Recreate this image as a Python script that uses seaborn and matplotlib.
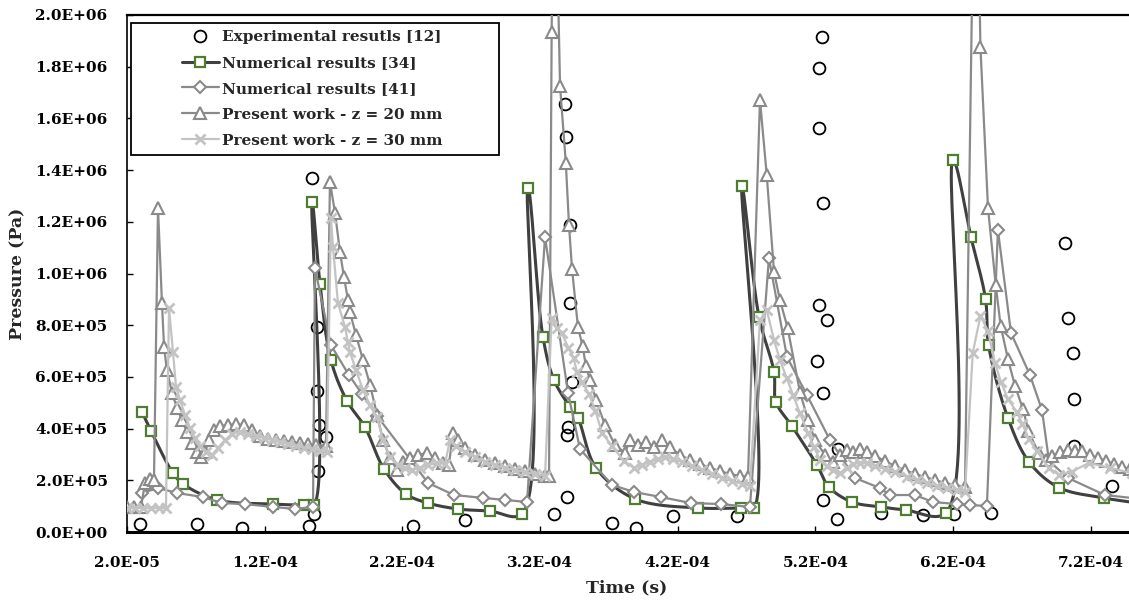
import numpy as np
import pandas as pd
import matplotlib
matplotlib.use("Agg")
import matplotlib.pyplot as plt
import seaborn as sns
from matplotlib.lines import Line2D
from matplotlib.patches import Rectangle
from matplotlib.ticker import FuncFormatter, FixedLocator

sns.set_theme(style="white")
plt.rcParams['font.family'] = ['DejaVu Serif']
plt.rcParams['font.weight'] = 'bold'

# ---------------- data (time in microseconds, pressure in kPa) ----------------
exp_t = [29.4, 70.8, 103.5, 152.2, 155.8, 154.4, 158.3, 158.3, 159.4, 164.2, 158.7,
         227.7, 265.8, 330.1, 338.1, 338.6, 341.7, 341.7, 343.2, 340.6, 339.2, 339.9,
         371.9, 390.0, 416.5, 463.0, 522.5, 524.7, 522.5, 525.5, 522.5, 528.1, 521.3,
         525.7, 536.6, 525.2, 535.4, 567.6, 598.4, 620.6, 647.8, 700.9, 703.4, 707.0,
         708.1, 708.1, 735.0]
exp_p = [31, 31, 15, 23, 68, 1369, 793, 544, 414, 369, 236,
         23, 46, 68, 1656, 1528, 1188, 886, 582, 406, 377, 135,
         33, 17, 62, 62, 1563, 1915, 1795, 1273, 878, 820, 660,
         538, 323, 122, 50, 75, 66, 70, 74, 1119, 828, 694,
         515, 331, 178]

num34_t = [30.9, 37.4, 53.4, 60.7, 85.4, 126.0, 148.5, 155.8, 154.4, 160.2, 168.1, 179.8,
           192.8, 206.6, 222.6, 238.6, 260.4, 283.6, 306.9, 311.2, 322.1, 330.1, 341.7,
           347.5, 360.6, 388.9, 434.7, 465.9, 475.3, 466.6, 479.0, 489.9, 491.3, 502.9,
           521.1, 529.8, 546.5, 567.6, 585.7, 614.8, 619.9, 632.9, 643.5, 645.7, 659.8,
           675.4, 696.8, 729.2, 770.2]
num34_p = [464, 391, 228, 186, 124, 108, 104, 104, 1277, 959, 665, 507,
           406, 244, 147, 112, 89, 81, 70, 1331, 754, 588, 484,
           441, 248, 128, 93, 93, 93, 1338, 832, 619, 503, 410,
           259, 174, 116, 97, 85, 74, 1439, 1141, 901, 723, 441,
           269, 172, 132, 101]

num41_t = [30.9, 42.5, 56.3, 75.2, 89.0, 105.7, 126.0, 142.0, 155.1, 156.5, 168.1, 181.2,
           190.7, 201.6, 238.6, 257.5, 278.5, 294.5, 310.5, 323.6, 340.3, 349.0, 372.2,
           388.2, 407.8, 429.6, 451.4, 472.4, 486.2, 499.3, 513.8, 530.5, 548.7, 566.8,
           574.1, 592.3, 605.3, 622.8, 632.2, 644.5, 652.5, 662.0, 675.8, 684.5, 689.6,
           703.4, 730.2, 762.9]
num41_p = [151, 170, 151, 135, 112, 108, 97, 89, 97, 1021, 723, 607,
           534, 449, 190, 143, 132, 124, 116, 1141, 538, 321, 182,
           155, 135, 112, 108, 97, 1060, 677, 530, 356, 209, 170,
           143, 143, 116, 108, 104, 101, 1168, 770, 607, 472, 275,
           209, 143, 124]

z20_t = [20.0, 25.1, 30.2, 33.1, 36.7, 39.6, 42.5, 45.4, 46.9, 49.0, 52.7, 56.3, 59.9,
         63.6, 67.2, 70.8, 73.7, 76.6, 79.6, 83.2, 87.5, 93.3, 99.2, 105.0, 110.8, 116.6,
         122.4, 128.2, 134.0, 139.8, 145.6, 151.4, 157.3, 164.5, 167.4, 171.1, 174.7,
         177.6, 180.5, 181.9, 186.3, 191.4, 196.5, 201.6, 205.9, 211.0, 216.1, 220.4,
         225.5, 231.3, 237.9, 243.7, 249.5, 253.8, 256.7, 260.4, 265.5, 272.7, 280.0,
         287.2, 294.5, 301.8, 309.0, 316.3, 323.6, 326.5, 328.4, 330.1, 334.5, 338.7,
         341.0, 343.2, 347.5, 350.9, 353.3, 356.2, 360.6, 367.1, 374.4, 381.7, 385.3,
         391.1, 396.9, 402.7, 408.5, 414.3, 421.6, 428.9, 436.1, 443.4, 450.7, 457.9,
         465.2, 471.0, 479.7, 484.6, 489.9, 494.2, 499.8, 508.7, 514.6, 519.6, 526.9,
         532.7, 537.8, 542.9, 547.2, 552.3, 557.4, 563.2, 570.5, 577.7, 585.0, 592.3,
         599.5, 606.8, 614.0, 621.3, 628.6, 636.2, 639.8, 645.3, 650.9, 654.5, 659.8,
         664.9, 670.7, 674.7, 682.0, 687.4, 691.8, 697.6, 703.4, 708.5, 713.5, 719.4,
         725.2, 731.0, 736.8, 742.6, 748.4, 755.7]
z20_p = [97, 97, 97, 190, 205, 201, 1253, 886, 716, 627, 538, 480, 433,
         387, 344, 309, 290, 309, 356, 395, 410, 414, 418, 414, 395, 371,
         360, 356, 352, 348, 344, 340, 337, 333, 1354, 1234, 1083,
         986, 897, 851, 762, 665, 569, 453, 356, 286, 240, 271,
         286, 298, 306, 286, 267, 259, 383, 356, 325, 298, 279,
         267, 255, 244, 236, 224, 217, 217, 1934, 2832, 1725, 1427,
         1188, 1017, 793, 718, 642, 588, 511, 414, 337, 306, 356,
         337, 348, 329, 356, 329, 298, 279, 263, 248, 236, 224,
         217, 213, 1671, 1381, 1006, 897, 789, 542, 433, 356, 298,
         271, 298, 317, 309, 321, 309, 294, 275, 255, 240, 224,
         213, 201, 190, 182, 174, 2998, 1876, 1253, 956, 797, 669,
         565, 476, 391, 306, 279, 294, 309, 317, 313, 313, 298,
         286, 275, 263, 251, 244, 236]

z30_t = [20.0, 25.8, 31.6, 37.4, 43.2, 48.3, 50.5, 53.4, 55.6, 58.5, 62.1, 65.8, 69.4,
         73.0, 77.4, 81.7, 86.1, 91.2, 96.3, 102.1, 107.9, 113.7, 119.5, 125.3, 131.1,
         136.9, 142.7, 148.5, 154.4, 160.2, 165.2, 168.1, 169.6, 173.2, 178.3, 180.5,
         181.9, 186.3, 191.4, 196.5, 201.6, 205.9, 211.0, 216.8, 221.9, 227.0, 232.8,
         238.6, 245.1, 250.9, 254.6, 258.9, 265.5, 272.7, 280.0, 287.2, 294.5, 301.8,
         309.0, 316.3, 323.6, 328.4, 332.0, 335.7, 340.6, 344.3, 346.8, 350.4, 355.5,
         360.2, 365.0, 372.2, 380.9, 388.2, 394.0, 399.8, 405.6, 410.7, 416.5, 423.1,
         430.3, 437.6, 444.8, 452.1, 459.4, 466.6, 472.4, 479.7, 484.6, 489.9, 494.2,
         499.1, 503.7, 508.7, 514.6, 518.9, 523.3, 528.4, 532.7, 537.8, 542.9, 547.2,
         552.3, 557.4, 563.2, 570.5, 577.7, 586.5, 593.7, 601.0, 608.2, 615.5, 622.8,
         628.6, 634.2, 639.8, 645.3, 650.4, 654.7, 659.8, 666.1, 670.3, 675.1, 680.9,
         689.4, 696.8, 706.3, 718.6, 733.6, 749.8]
z30_p = [93, 93, 93, 93, 93, 93, 867, 696, 561, 511, 453, 402, 364,
         333, 309, 298, 325, 356, 379, 387, 379, 371, 364, 356, 348,
         340, 333, 325, 321, 313, 309, 1215, 1103, 886, 793, 735,
         696, 627, 549, 491, 445, 356, 290, 259, 248, 240, 248,
         259, 267, 263, 356, 333, 309, 290, 271, 259, 248, 240,
         232, 224, 217, 828, 789, 770, 712, 673, 619, 580, 534,
         468, 383, 333, 275, 248, 259, 271, 282, 290, 282, 271,
         255, 240, 224, 209, 197, 186, 178, 820, 859, 743, 665,
         596, 530, 460, 383, 329, 279, 255, 240, 228, 248, 263,
         267, 267, 255, 244, 232, 213, 201, 190, 178, 170, 162,
         155, 692, 836, 778, 654, 580, 515, 464, 418, 358, 313,
         248, 221, 234, 267, 248, 228]

labels = ["Experimental resutls [12]", "Numerical results [34]", "Numerical results [41]",
          "Present work - z = 20 mm", "Present work - z = 30 mm"]
x_ticks = [2.0e-5, 1.2e-4, 2.2e-4, 3.2e-4, 4.2e-4, 5.2e-4, 6.2e-4, 7.2e-4]
y_ticks = [0, 2e5, 4e5, 6e5, 8e5, 1e6, 1.2e6, 1.4e6, 1.6e6, 1.8e6, 2.0e6]

# ---------------- helpers ----------------
def to_df(t, p):
    return pd.DataFrame({"t": np.asarray(t, float) * 1e-6, "p": np.asarray(p, float) * 1e3})

def smooth_curve(df, sx, sy, n=30, alpha=0.5):
    """Centripetal Catmull-Rom through the data points (in screen-like units)."""
    pts = np.column_stack([df["t"].to_numpy() * sx, df["p"].to_numpy() * sy])
    P = np.vstack([2 * pts[0] - pts[1], pts, 2 * pts[-1] - pts[-2]])
    out = []
    for i in range(1, len(P) - 2):
        p0, p1, p2, p3 = P[i - 1], P[i], P[i + 1], P[i + 2]
        d01 = max(np.linalg.norm(p1 - p0), 1e-6) ** alpha
        d12 = max(np.linalg.norm(p2 - p1), 1e-6) ** alpha
        d23 = max(np.linalg.norm(p3 - p2), 1e-6) ** alpha
        t0, t1 = 0.0, d01
        t2 = t1 + d12
        t3 = t2 + d23
        tt = np.linspace(t1, t2, n, endpoint=False)[:, None]
        A1 = (t1 - tt) / (t1 - t0) * p0 + (tt - t0) / (t1 - t0) * p1
        A2 = (t2 - tt) / (t2 - t1) * p1 + (tt - t1) / (t2 - t1) * p2
        A3 = (t3 - tt) / (t3 - t2) * p2 + (tt - t2) / (t3 - t2) * p3
        B1 = (t2 - tt) / (t2 - t0) * A1 + (tt - t0) / (t2 - t0) * A2
        B2 = (t3 - tt) / (t3 - t1) * A2 + (tt - t1) / (t3 - t1) * A3
        C = (t2 - tt) / (t2 - t1) * B1 + (tt - t1) / (t2 - t1) * B2
        out.append(C)
    out.append(pts[-1][None, :])
    arr = np.vstack(out)
    return pd.DataFrame({"t": arr[:, 0] / sx, "p": arr[:, 1] / sy})

GREEN = "#4f7d2f"
DARK = "#404040"
MID = "#8a8a8a"
LIGHT = "#c3c3c3"

W, H = 1129, 603
fig = plt.figure(figsize=(W / 100, H / 100), dpi=100)
L, R, T, B = 127, 1129, 15, 532
ax = fig.add_axes([L / W, (H - B) / H, (R - L) / W, (B - T) / H])
ax.set_facecolor("white")
XMIN, XMAX, YMIN, YMAX = 2.0e-5, 7.477e-4, 0, 2.0e6
SX = (R - L) / (XMAX - XMIN)
SY = (B - T) / (YMAX - YMIN)

d_exp = to_df(exp_t, exp_p)
d34 = to_df(num34_t, num34_p)
d41 = to_df(num41_t, num41_p)
d20 = to_df(z20_t, z20_p)
d30 = to_df(z30_t, z30_p)

sns.lineplot(data=d_exp, x="t", y="p", sort=False, estimator=None, ax=ax, color="black",
             linestyle="none", marker="o", markersize=8.5, markerfacecolor="none",
             markeredgecolor="black", markeredgewidth=1.3, zorder=2)
sns.lineplot(data=smooth_curve(d34, SX, SY), x="t", y="p", sort=False, estimator=None,
             ax=ax, color=DARK, linewidth=2.2, zorder=3)
sns.lineplot(data=d34, x="t", y="p", sort=False, estimator=None, ax=ax, color=GREEN,
             linestyle="none", marker="s", markersize=7.5, markerfacecolor="white",
             markeredgecolor=GREEN, markeredgewidth=1.6, zorder=3)
sns.lineplot(data=d41, x="t", y="p", sort=False, estimator=None, ax=ax, color=MID,
             linewidth=1.6, marker="D", markersize=6.5, markerfacecolor="white",
             markeredgecolor=MID, markeredgewidth=1.5, zorder=3)
sns.lineplot(data=d20, x="t", y="p", sort=False, estimator=None, ax=ax, color=MID,
             linewidth=1.6, marker="^", markersize=8, markerfacecolor="white",
             markeredgecolor=MID, markeredgewidth=1.5, zorder=3)
sns.lineplot(data=d30, x="t", y="p", sort=False, estimator=None, ax=ax, color=LIGHT,
             linewidth=1.6, marker="x", markersize=6.5, markeredgecolor=LIGHT,
             markeredgewidth=2.0, zorder=3)

ax.set_xlim(XMIN, XMAX)
ax.set_ylim(YMIN, YMAX)
ax.xaxis.set_major_locator(FixedLocator(x_ticks))
ax.yaxis.set_major_locator(FixedLocator(y_ticks))
fmt = FuncFormatter(lambda v, pos: f"{v:.1E}")
ax.xaxis.set_major_formatter(fmt)
ax.yaxis.set_major_formatter(fmt)
ax.tick_params(axis="both", direction="in", length=4, width=1, colors="black",
               labelsize=11, bottom=True, left=True, top=False, right=False)
ax.tick_params(axis="x", pad=17)
ax.tick_params(axis="y", pad=14)
for lab in ax.get_xticklabels() + ax.get_yticklabels():
    lab.set_fontweight("bold")
ax.set_xlabel("")
ax.set_ylabel("")
ax.grid(False)
for side, lw in [("left", 1.2), ("bottom", 2.2), ("top", 1.6)]:
    ax.spines[side].set_visible(True)
    ax.spines[side].set_color("black")
    ax.spines[side].set_linewidth(lw)
ax.spines["right"].set_visible(False)

fig.text(18 / W, 1 - 274 / H, "Pressure (Pa)", rotation=90, ha="center", va="center",
         fontsize=12.5, fontweight="bold")
fig.text(627 / W, 1 - 588 / H, "Time (s)", ha="center", va="center",
         fontsize=12.5, fontweight="bold")

# legend frame + entries
ax.add_patch(Rectangle((131 / W, 1 - 155 / H), (499 - 131) / W, (155 - 23) / H,
                       transform=fig.transFigure, facecolor="white", edgecolor="black",
                       linewidth=1.3, zorder=6, clip_on=False))
handles = [
    Line2D([], [], linestyle="none", marker="o", markersize=8.5, markerfacecolor="none",
           markeredgecolor="black", markeredgewidth=1.3),
    Line2D([], [], color=DARK, linewidth=2.2, marker="s", markersize=7.5,
           markerfacecolor="white", markeredgecolor=GREEN, markeredgewidth=1.6),
    Line2D([], [], color=MID, linewidth=1.6, marker="D", markersize=6.5,
           markerfacecolor="white", markeredgecolor=MID, markeredgewidth=1.5),
    Line2D([], [], color=MID, linewidth=1.6, marker="^", markersize=8,
           markerfacecolor="white", markeredgecolor=MID, markeredgewidth=1.5),
    Line2D([], [], color=LIGHT, linewidth=1.6, marker="x", markersize=6.5,
           markeredgecolor=LIGHT, markeredgewidth=2.0),
]
leg = ax.legend(handles, labels, loc="upper left",
                bbox_to_anchor=(182 / W, 1 - 30 / H), bbox_transform=fig.transFigure,
                frameon=False, borderpad=0, borderaxespad=0, handlelength=2.4,
                handletextpad=0.2, labelspacing=0.78,
                prop={"family": "DejaVu Serif", "weight": "bold", "size": 11})
leg.set_zorder(7)

fig.savefig("out.png", dpi=100, facecolor="white")
